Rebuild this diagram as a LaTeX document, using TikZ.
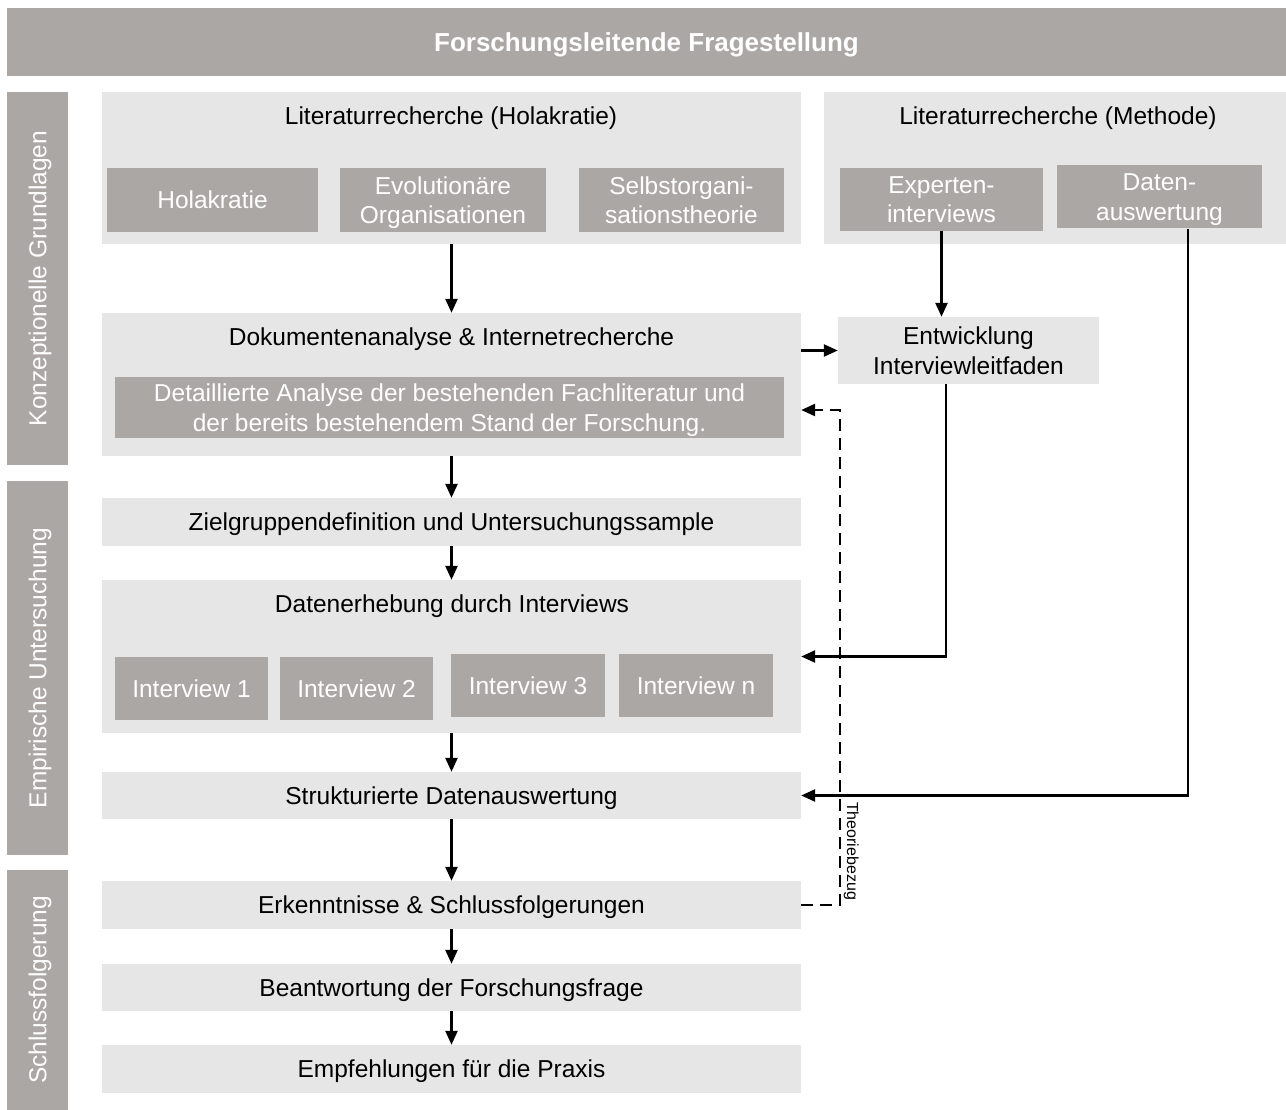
\documentclass[tikz,border=0pt]{standalone}
\usepackage{fontspec}
\setmainfont{Liberation Sans}
\usepackage{tikz}
\usetikzlibrary{arrows.meta}
\definecolor{darkgrey}{RGB}{171,167,165}
\definecolor{lightgrey}{RGB}{230,230,230}

\begin{document}
\begin{tikzpicture}[x=1pt,y=-1pt,
  every text node part/.style={align=center},
  every node/.style={font=\fontsize{24.5}{29.5}\selectfont, inner sep=0pt, text depth=0pt},
  panel/.style={fill=lightgrey},
  item/.style={fill=darkgrey, text=white},
  side/.style={fill=darkgrey, text=white, rotate=90, minimum height=61pt},
  arr/.style={-{Triangle[length=14pt,width=12pt]}, line width=2.5pt}]
  \useasboundingbox (0,0) rectangle (1286,1110);

  \node[item, font=\fontsize{26}{30}\selectfont\bfseries, minimum width=1279pt, minimum height=68pt] (frage) at (646.5,42) {Forschungsleitende Fragestellung};

  \node[side, minimum width=373pt] (konz) at (37.5,278.5) {Konzeptionelle Grundlagen};
  \node[side, minimum width=374pt] (empir) at (37.5,668) {Empirische Untersuchung};
  \node[side, minimum width=240pt] (schluss) at (37.5,990) {Schlussfolgerung};

  % Literatur
  \node[panel, minimum width=699pt, minimum height=152pt] (litH) at (451.5,168) {};
  \node (litHtitle) at (451,116) {Literaturrecherche (Holakratie)};
  \node[item, minimum width=211pt, minimum height=64pt] (hola) at (212.5,200) {Holakratie};
  \node[item, minimum width=206pt, minimum height=64pt] (evo) at (443,200) {Evolutionäre\\Organisationen};
  \node[item, minimum width=205pt, minimum height=64pt] (selbst) at (681.5,200) {Selbstorgani-\\sationstheorie};

  \node[panel, minimum width=462pt, minimum height=152pt] (litM) at (1055,168) {};
  \node (litMtitle) at (1058,116) {Literaturrecherche (Methode)};
  \node[item, minimum width=203pt, minimum height=63pt] (exp) at (941.5,199.5) {Experten-\\interviews};
  \node[item, minimum width=205pt, minimum height=63pt] (daten) at (1159.5,197) {Daten-\\auswertung};

  % Analyse
  \node[panel, minimum width=699pt, minimum height=143pt] (dok) at (451.5,384.5) {};
  \node (doktitle) at (451.5,337) {Dokumentenanalyse \& Internetrecherche};
  \node[item, minimum width=669pt, minimum height=61pt] (dokin) at (449.5,407.5) {Detaillierte Analyse der bestehenden Fachliteratur und\\der bereits bestehendem Stand der Forschung.};
  \node[panel, minimum width=261pt, minimum height=67pt] (entw) at (968.5,350.5) {Entwicklung\\Interviewleitfaden};

  \node[panel, minimum width=699pt, minimum height=48pt] (ziel) at (451.5,522) {Zielgruppendefinition und Untersuchungssample};

  % Interviews
  \node[panel, minimum width=699pt, minimum height=153pt] (erh) at (451.5,656.5) {};
  \node (erhtitle) at (452,604) {Datenerhebung durch Interviews};
  \node[item, minimum width=153pt, minimum height=63pt] (int1) at (191.5,688.5) {Interview 1};
  \node[item, minimum width=153pt, minimum height=63pt] (int2) at (356.5,688.5) {Interview 2};
  \node[item, minimum width=154pt, minimum height=63pt] (int3) at (528,685.5) {Interview 3};
  \node[item, minimum width=154pt, minimum height=63pt] (intn) at (696,685.5) {Interview n};

  \node[panel, minimum width=699pt, minimum height=47pt] (struk) at (451.5,795.5) {Strukturierte Datenauswertung};
  \node[panel, minimum width=699pt, minimum height=48pt] (erk) at (451.5,905) {Erkenntnisse \& Schlussfolgerungen};
  \node[panel, minimum width=699pt, minimum height=47pt] (beant) at (451.5,987.5) {Beantwortung der Forschungsfrage};
  \node[panel, minimum width=699pt, minimum height=48pt] (empf) at (451.5,1069) {Empfehlungen für die Praxis};

  \draw[arr] (litH.south) -- (dok.north);
  \draw[arr] (dok.south) -- (ziel.north);
  \draw[arr] (ziel.south) -- (erh.north);
  \draw[arr] (erh.south) -- (struk.north);
  \draw[arr] (struk.south) -- (erk.north);
  \draw[arr] (erk.south) -- (beant.north);
  \draw[arr] (beant.south) -- (empf.north);

  \draw[arr] (exp.south) -- (exp.south |- entw.north);
  \draw[arr] (entw.west -| dok.east) -- (entw.west);
  \draw[arr] ([xshift=-22.5pt]entw.south) |- (erh.east);
  \draw[arr] ([xshift=28.5pt]daten.south) |- (struk.east);
  \draw[arr, dashed, dash pattern=on 12pt off 7pt] (erk.east) -- ++(39,0) |- ([yshift=-25.5pt]dok.east);

  \node[rotate=-90, font=\fontsize{16}{18}\selectfont] (theorie) at (853,851) {Theoriebezug};
\end{tikzpicture}
\end{document}
